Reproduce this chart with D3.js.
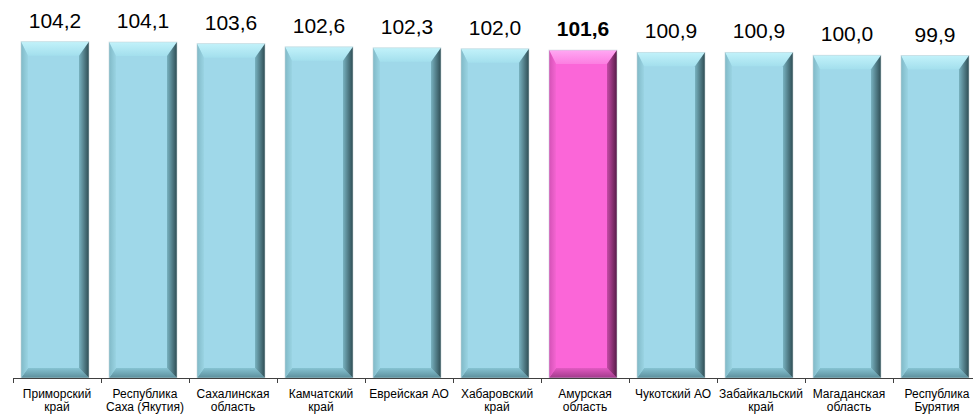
<!DOCTYPE html>
<html>
<head>
<meta charset="utf-8">
<script src="https://cdn.jsdelivr.net/npm/d3@7"></script>
<style>
  body { margin: 0; background: #fff; }
  svg { display: block; font-family: "Liberation Sans", Arial, sans-serif; }
</style>
</head>
<body>
<svg id="chart" width="973" height="414"></svg>
<script>
// data
const regions = [
  "Приморский край", "Республика Саха (Якутия)", "Сахалинская область",
  "Камчатский край", "Еврейская АО", "Хабаровский край", "Амурская область",
  "Чукотский АО", "Забайкальский край", "Магаданская область", "Республика Бурятия"
];
const labelLines = [
  ["Приморский", "край"], ["Республика", "Саха (Якутия)"], ["Сахалинская", "область"],
  ["Камчатский", "край"], ["Еврейская АО"], ["Хабаровский", "край"], ["Амурская", "область"],
  ["Чукотский АО"], ["Забайкальский", "край"], ["Магаданская", "область"], ["Республика", "Бурятия"]
];
const values = [104.2, 104.1, 103.6, 102.6, 102.3, 102.0, 101.6, 100.9, 100.9, 100.0, 99.9];
const highlighted = ["Амурская область"];

const svg = d3.select("#chart");
const baseY = 378;
const left = 13, step = 88;

const x = d3.scaleBand()
  .domain(regions)
  .range([left, left + step * regions.length])
  .paddingInner(20 / 88)
  .paddingOuter(10 / 88);

const y = d3.scaleLinear().domain([0, 104.2]).range([baseY, 41.7]);

const ru = d3.formatLocale({ decimal: ",", thousands: " ", grouping: [3], currency: ["", ""] });
const fmt = ru.format(".1f");

// colour schemes for the bevelled bars
const schemes = {
  blue: { face: "#9fd8e9", top: ["#c2f2fa", "#a3dfed"], right: ["#78b2c0", "#2e4c53"],
          bottom: ["#86c3d2", "#5b8e9b"], left: ["#80b9c7", "#9ad4e3"] },
  pink: { face: "#fb66d8", top: ["#ffa8f3", "#fc7ee1"], right: ["#c44aa6", "#561b47"],
          bottom: ["#e25ac2", "#a13a8a"], left: ["#d351b6", "#f466d2"] }
};

const defs = svg.append("defs");
Object.entries(schemes).forEach(([k, s]) => {
  const grad = (id, c, x2, y2) => {
    const g = defs.append("linearGradient").attr("id", id)
      .attr("x1", 0).attr("y1", 0).attr("x2", x2).attr("y2", y2);
    g.append("stop").attr("offset", "0%").attr("stop-color", c[0]);
    g.append("stop").attr("offset", "100%").attr("stop-color", c[1]);
  };
  grad(k + "-top", s.top, 0, 1);
  grad(k + "-right", s.right, 1, 0);
  grad(k + "-bottom", s.bottom, 0, 1);
  grad(k + "-left", s.left, 1, 0);
});

const bt = 14, br = 10, bb = 10, bl = 7; // bevel sizes

const bars = svg.append("g").selectAll("g")
  .data(regions.map((r, i) => ({ region: r, value: values[i], lines: labelLines[i] })))
  .enter().append("g")
  .attr("transform", d => `translate(${x(d.region) - 2},${y(d.value)})`);

bars.each(function (d) {
  const g = d3.select(this);
  const k = highlighted.includes(d.region) ? "pink" : "blue";
  const w = x.bandwidth(), h = baseY - y(d.value);
  g.append("rect").attr("width", w).attr("height", h).attr("fill", schemes[k].face);
  g.append("path").attr("fill", `url(#${k}-top)`)
    .attr("d", `M0,0H${w}L${w - br},${bt}H${bl}Z`);
  g.append("path").attr("fill", `url(#${k}-bottom)`)
    .attr("d", `M${bl},${h - bb}H${w - br}L${w},${h}H0Z`);
  g.append("path").attr("fill", `url(#${k}-left)`)
    .attr("d", `M0,0L${bl},${bt}V${h - bb}L0,${h}Z`);
  g.append("path").attr("fill", `url(#${k}-right)`)
    .attr("d", `M${w},0V${h}L${w - br},${h - bb}V${bt}Z`);
  g.append("rect").attr("width", w).attr("height", h)
    .attr("fill", "none").attr("stroke", "#c8d6da").attr("stroke-width", 0.8).attr("opacity", 0.7);
});

// value labels
svg.append("g").selectAll("text")
  .data(regions)
  .enter().append("text")
  .attr("x", d => x(d) + x.bandwidth() / 2 - 2)
  .attr("y", (d, i) => y(values[i]) - 14)
  .attr("text-anchor", "middle")
  .attr("font-size", 21)
  .attr("font-weight", d => highlighted.includes(d) ? "bold" : "normal")
  .attr("fill", "#000")
  .text((d, i) => fmt(values[i]));

// axis with ticks between categories
const xEdges = d3.scaleLinear().domain([0, regions.length]).range([left, left + step * regions.length]);
svg.append("g")
  .attr("transform", `translate(0,${baseY})`)
  .call(d3.axisBottom(xEdges).ticks(regions.length).tickSize(5).tickSizeOuter(0).tickFormat(""))
  .call(g => g.selectAll("path,line").attr("stroke", "#404040"));

// category labels
const cat = svg.append("g").selectAll("text")
  .data(regions)
  .enter().append("text")
  .attr("x", d => x(d) + x.bandwidth() / 2)
  .attr("y", 398)
  .attr("text-anchor", "middle")
  .attr("font-size", 12)
  .attr("fill", "#000");
cat.each(function (d, i) {
  const t = d3.select(this);
  labelLines[i].forEach((ln, j) => {
    t.append("tspan").attr("x", x(d) + x.bandwidth() / 2).attr("dy", j ? 13 : 0).text(ln);
  });
});
</script>
</body>
</html>
